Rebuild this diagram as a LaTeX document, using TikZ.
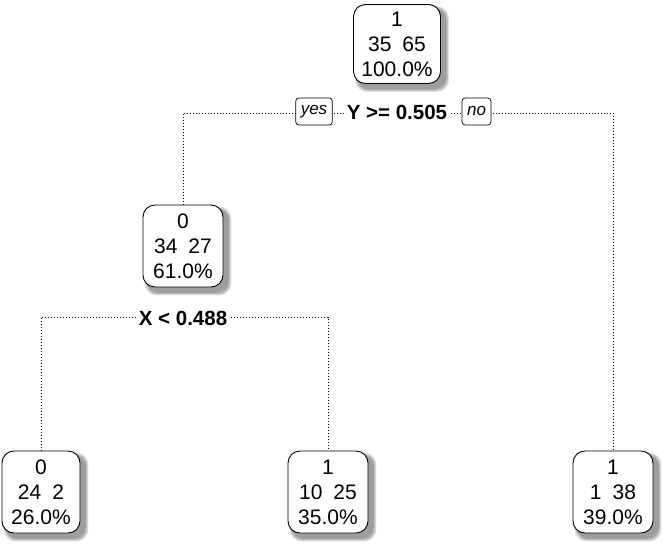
\documentclass[tikz,border=0pt]{standalone}
\usepackage{fontspec}
\setmainfont{Liberation Sans}
\usetikzlibrary{backgrounds}
\tikzset{
  treenode/.style={draw=black, line width=0.9pt, rounded corners=12pt, fill=white,
    minimum width=80pt, minimum height=82pt, align=center, inner sep=0pt,
    font=\fontsize{21}{25}\selectfont},
  shadowbox/.style={rounded corners=12pt},
  conn/.style={line width=0.9pt, dash pattern=on 0.9pt off 2.1pt, black},
  splitlabel/.style={fill=white, inner xsep=2pt, inner ysep=1pt, font=\bfseries\fontsize{20.5}{22}\selectfont},
  yesno/.style={draw=black, line width=0.7pt, rounded corners=3pt, fill=white,
    font=\itshape\fontsize{17}{19}\selectfont, minimum height=27pt, inner xsep=5pt, inner ysep=0pt}
}
\newcommand{\gap}{\hspace{11pt}}
\begin{document}
\begin{tikzpicture}[x=1pt,y=-1pt]
\useasboundingbox (0,0) rectangle (663,544);
% nodes
\node[treenode, minimum width=87pt, minimum height=79pt] (root) at (397,44) {1\\35\gap65\\100.0\%};
\node[treenode] (n0) at (183,246) {0\\34\gap27\\61.0\%};
\node[treenode, minimum width=78pt] (la) at (41,492) {0\\24\gap2\\26.0\%};
\node[treenode] (lb) at (328,492) {1\\10\gap25\\35.0\%};
\node[treenode] (lc) at (613,492) {1\\1\gap38\\39.0\%};
% shadows
\begin{scope}[on background layer]
\foreach \n in {root,n0,la,lb,lc}{
  \fill[shadowbox, black!12] ([shift={(2,2)}]\n.north west) rectangle ([shift={(8,8)}]\n.south east);
  \fill[shadowbox, black!25] ([shift={(3,3)}]\n.north west) rectangle ([shift={(7,7)}]\n.south east);
  \fill[shadowbox, black!38] ([shift={(4,4)}]\n.north west) rectangle ([shift={(5.5,5.5)}]\n.south east);
}
\end{scope}
% split coordinates
\coordinate (s1) at (397,113);
\coordinate (s2) at (183,317);
% connectors
\draw[conn] (n0.north) -- (n0.north |- s1) -- (lc.north |- s1) -- (lc.north);
\draw[conn] (la.north) -- (la.north |- s2) -- (lb.north |- s2) -- (lb.north);
% labels
\node[splitlabel] (t1) at (397,112.5) {Y >= 0.505};
\node[yesno] (yes) at (314,111.5) {yes};
\node[yesno] (no) at (476.5,111.5) {no};
\node[splitlabel] (t2) at (183,318) {X < 0.488};
\end{tikzpicture}
\end{document}
